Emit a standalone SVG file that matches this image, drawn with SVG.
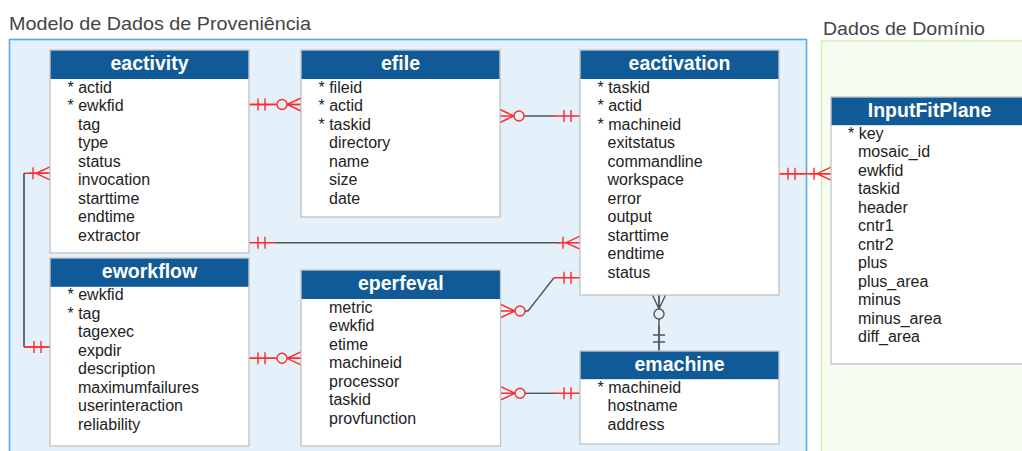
<svg xmlns="http://www.w3.org/2000/svg" xmlns:xlink="http://www.w3.org/1999/xlink" width="1022" height="451" viewBox="0 0 1022 451">
<style>
.title{font-family:"Liberation Sans",Arial,sans-serif;font-size:19px;fill:#444}
.tbl{fill:#fff;stroke:#c2c2c2;stroke-width:1.3}
.hdr{fill:#0f5a97}
.hname{font-family:"Liberation Sans",Arial,sans-serif;font-size:19.5px;font-weight:bold;fill:#fff;text-anchor:middle}
.col{font-family:"Liberation Sans",Arial,sans-serif;font-size:16px;fill:#222}
.red{stroke:#ff2a2a}
.gray{stroke:#555}
.ln{fill:none;stroke-width:1.4}
</style>
<defs>
<g id="oneone" fill="none"><path d="M0,0 H26 M9,-6 V6 M16,-6 V6"/></g>
<g id="zeromany"><path fill="none" d="M0,-6.5 L14,0 L0,6.5 M0,0 H14"/><circle cx="19" cy="0" r="5" fill="#e5f1fa"/></g>
<g id="onemany" fill="none"><path d="M0,-6.5 L14,0 L0,6.5 M0,0 H22 M17,-6 V6"/></g>
</defs>
<rect x="821.5" y="41" width="260" height="430" fill="#f8fdf4" stroke="#c8f0aa" stroke-width="1.3"/>
<rect x="9.5" y="39.5" width="797" height="430" fill="#e5f1fa" stroke="#5aa8e2" stroke-width="1.6"/>
<text class="title" x="9" y="30" textLength="302" lengthAdjust="spacingAndGlyphs">Modelo de Dados de Proveniência</text>
<text class="title" x="823" y="35" textLength="162" lengthAdjust="spacingAndGlyphs">Dados de Domínio</text>

<g id="connectors" class="ln">
<!-- eactivity - efile -->
<path class="red" d="M249,104.5 H301"/>
<use href="#oneone" class="red" transform="translate(249,104.5)"/>
<use href="#zeromany" class="red" transform="translate(301,104.5) rotate(180)"/>
<!-- efile - eactivation -->
<path class="gray" d="M520,116 H555"/>
<use href="#zeromany" class="red" transform="translate(500,116)"/>
<use href="#oneone" class="red" transform="translate(580,116) rotate(180)"/>
<!-- eactivity - eworkflow loop -->
<path class="red" d="M50,173.3 H24"/>
<path class="gray" style="stroke:#333" d="M24,173.3 V347"/>
<path class="red" d="M24,347 H50"/>
<use href="#onemany" class="red" transform="translate(50,173.3) rotate(180)"/>
<use href="#oneone" class="red" transform="translate(50,347) rotate(180)"/>
<!-- eactivity - eactivation -->
<path class="gray" d="M275,242.7 H560"/>
<use href="#oneone" class="red" transform="translate(249,242.7)"/>
<use href="#onemany" class="red" transform="translate(580,242.7) rotate(180)"/>
<!-- eactivation - eperfeval -->
<path class="gray" d="M523,311 H528 L554,277.7"/>
<use href="#oneone" class="red" transform="translate(580,277.7) rotate(180)"/>
<use href="#zeromany" class="red" transform="translate(501,311)"/>
<!-- emachine - eperfeval -->
<path class="gray" d="M523,393.3 H555"/>
<use href="#zeromany" class="red" transform="translate(501,393.3)"/>
<use href="#oneone" class="red" transform="translate(580,393.3) rotate(180)"/>
<!-- eworkflow - eperfeval -->
<path class="red" d="M249,358.3 H301"/>
<use href="#oneone" class="red" transform="translate(249,358.3)"/>
<use href="#zeromany" class="red" transform="translate(301,358.3) rotate(180)"/>
<!-- eactivation - emachine -->
<path class="gray" d="M659,295 V351"/>
<use href="#zeromany" class="gray" transform="translate(659,295) rotate(90)"/>
<use href="#oneone" class="gray" transform="translate(659,351) rotate(-90)"/>
<!-- eactivation - InputFitPlane -->
<path class="red" d="M779,173.7 H831"/>
<use href="#oneone" class="red" transform="translate(779,173.7)"/>
<use href="#onemany" class="red" transform="translate(831,173.7) rotate(180)"/>
</g>

<g id="eactivity">
<rect class="tbl" x="50" y="50" width="199" height="203"/>
<rect class="hdr" x="50.6" y="50.6" width="197.8" height="28.4"/>
<text class="hname" x="149.5" y="70">eactivity</text>
<text class="col" x="67.5" y="92.5">* actid</text>
<text class="col" x="67.5" y="111">* ewkfid</text>
<text class="col" x="78" y="129.5">tag</text>
<text class="col" x="78" y="148">type</text>
<text class="col" x="78" y="166.5">status</text>
<text class="col" x="78" y="185">invocation</text>
<text class="col" x="78" y="203.5">starttime</text>
<text class="col" x="78" y="222">endtime</text>
<text class="col" x="78" y="240.5">extractor</text>
</g>

<g id="efile">
<rect class="tbl" x="301" y="50" width="199" height="167"/>
<rect class="hdr" x="301.6" y="50.6" width="197.8" height="28.4"/>
<text class="hname" x="400.5" y="70">efile</text>
<text class="col" x="318.5" y="92.5">* fileid</text>
<text class="col" x="318.5" y="111">* actid</text>
<text class="col" x="318.5" y="129.5">* taskid</text>
<text class="col" x="329" y="148">directory</text>
<text class="col" x="329" y="166.5">name</text>
<text class="col" x="329" y="185">size</text>
<text class="col" x="329" y="203.5">date</text>
</g>

<g id="eactivation">
<rect class="tbl" x="580" y="50" width="199" height="245"/>
<rect class="hdr" x="580.6" y="50.6" width="197.8" height="28.4"/>
<text class="hname" x="679.5" y="70">eactivation</text>
<text class="col" x="597.5" y="92.5">* taskid</text>
<text class="col" x="597.5" y="111">* actid</text>
<text class="col" x="597.5" y="129.5">* machineid</text>
<text class="col" x="607.5" y="148">exitstatus</text>
<text class="col" x="607.5" y="166.5">commandline</text>
<text class="col" x="607.5" y="185">workspace</text>
<text class="col" x="607.5" y="203.5">error</text>
<text class="col" x="607.5" y="222">output</text>
<text class="col" x="607.5" y="240.5">starttime</text>
<text class="col" x="607.5" y="259">endtime</text>
<text class="col" x="607.5" y="277.5">status</text>
</g>

<g id="eworkflow">
<rect class="tbl" x="50" y="258" width="199" height="188"/>
<rect class="hdr" x="50.6" y="258.6" width="197.8" height="28.2"/>
<text class="hname" x="149.5" y="278">eworkflow</text>
<text class="col" x="67.5" y="300">* ewkfid</text>
<text class="col" x="67.5" y="318.5">* tag</text>
<text class="col" x="78" y="337">tagexec</text>
<text class="col" x="78" y="355.5">expdir</text>
<text class="col" x="78" y="374">description</text>
<text class="col" x="78" y="392.5">maximumfailures</text>
<text class="col" x="78" y="411">userinteraction</text>
<text class="col" x="78" y="429.5">reliability</text>
</g>

<g id="eperfeval">
<rect class="tbl" x="301" y="270" width="199.5" height="176"/>
<rect class="hdr" x="301.6" y="270.6" width="198.3" height="28.4"/>
<text class="hname" x="400.8" y="290">eperfeval</text>
<text class="col" x="329" y="312.5">metric</text>
<text class="col" x="329" y="331">ewkfid</text>
<text class="col" x="329" y="349.5">etime</text>
<text class="col" x="329" y="368">machineid</text>
<text class="col" x="329" y="386.5">processor</text>
<text class="col" x="329" y="405">taskid</text>
<text class="col" x="329" y="423.5">provfunction</text>
</g>

<g id="emachine">
<rect class="tbl" x="580" y="351" width="199" height="93"/>
<rect class="hdr" x="580.6" y="351.6" width="197.8" height="27.6"/>
<text class="hname" x="679.5" y="371">emachine</text>
<text class="col" x="597.5" y="392.5">* machineid</text>
<text class="col" x="607.5" y="411">hostname</text>
<text class="col" x="607.5" y="429.5">address</text>
</g>

<g id="InputFitPlane">
<rect class="tbl" x="831" y="97" width="198" height="267"/>
<rect class="hdr" x="831.6" y="97.6" width="196.8" height="27.6"/>
<text class="hname" x="929.5" y="117">InputFitPlane</text>
<text class="col" x="848" y="138.5">* key</text>
<text class="col" x="858" y="157">mosaic_id</text>
<text class="col" x="858" y="175.5">ewkfid</text>
<text class="col" x="858" y="194">taskid</text>
<text class="col" x="858" y="212.5">header</text>
<text class="col" x="858" y="231">cntr1</text>
<text class="col" x="858" y="249.5">cntr2</text>
<text class="col" x="858" y="268">plus</text>
<text class="col" x="858" y="286.5">plus_area</text>
<text class="col" x="858" y="305">minus</text>
<text class="col" x="858" y="323.5">minus_area</text>
<text class="col" x="858" y="342">diff_area</text>
</g>
</svg>
